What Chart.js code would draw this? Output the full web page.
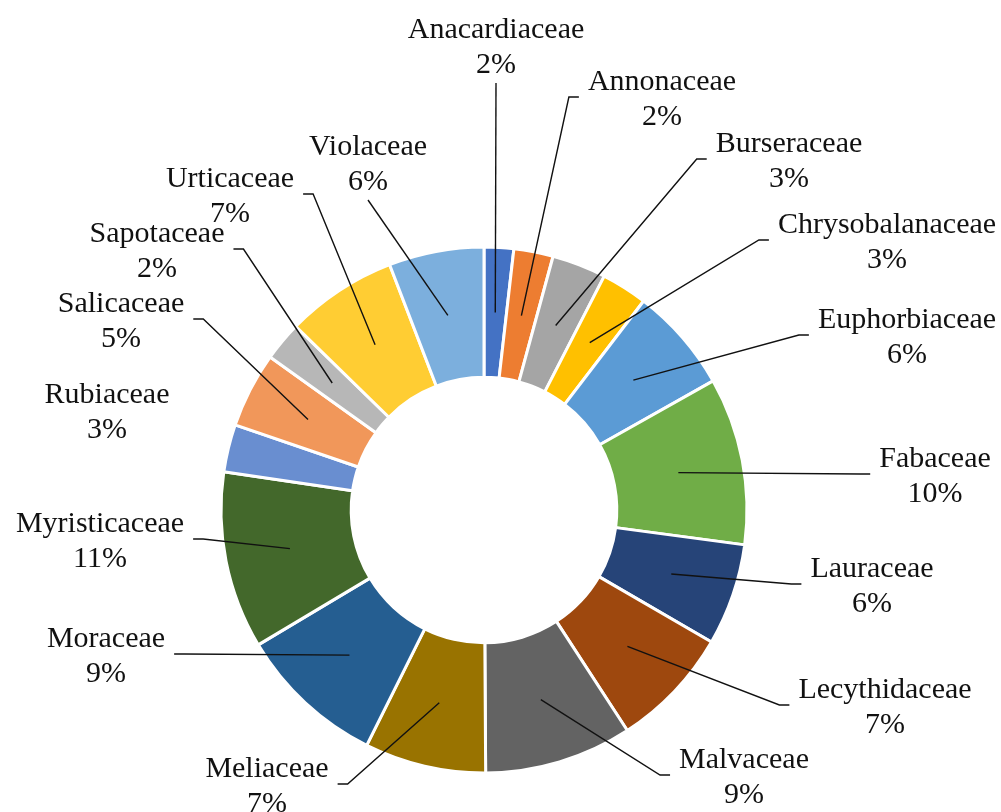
<!DOCTYPE html>
<html lang="en">
<head>
  <meta charset="UTF-8">
  <title>Tree families doughnut</title>
  <script src="https://cdn.jsdelivr.net/npm/chart.js"></script>
  <style>
    body { margin: 0; background: #fff; }
    canvas { display: block; }
  </style>
</head>
<body>
  <canvas id="donut" width="1001" height="812"></canvas>

  <script>
    // families, clockwise from 12 o'clock
    var families = ['Anacardiaceae', 'Annonaceae', 'Burseraceae', 'Chrysobalanaceae', 'Euphorbiaceae',
      'Fabaceae', 'Lauraceae', 'Lecythidaceae', 'Malvaceae', 'Meliaceae', 'Moraceae',
      'Myristicaceae', 'Rubiaceae', 'Salicaceae', 'Sapotaceae', 'Urticaceae', 'Violaceae'];

    // share of each family (%)
    var shares = [1.8, 2.4, 3.3, 2.8, 6.4, 10.2, 6.2, 7.4, 9.0, 7.4, 9.0, 10.8, 2.9, 4.6, 2.4, 6.8, 5.8];

    var sliceColors = ['#4472C4', '#ED7D31', '#A5A5A5', '#FFC000', '#5B9BD5', '#70AD47', '#264478',
      '#9E480E', '#636363', '#997300', '#255E91', '#43682B', '#698ED0', '#F1975A', '#B7B7B7',
      '#FFCD33', '#7CAFDD'];

    // where each label sits: text centre / first baseline, relative to the chart centre
    var labelOffsets = [[12, -472], [178, -420], [305, -358], [403, -277], [423, -182], [451, -43],
      [388, 67], [401, 188], [260, 258], [-217, 267], [-378, 137], [-384, 22], [-377, -107],
      [-363, -198], [-327, -268], [-254, -323], [-116, -355]];
    // which side of the label the leader line leaves from
    var leaderSide = ['bottom', 'left', 'left', 'left', 'left', 'left', 'left', 'left', 'left',
      'right', 'right', 'right', 'none', 'right', 'right', 'right', 'bottom'];

    // draws the two-line labels and leader lines
    var calloutPlugin = {
      id: 'callouts',
      afterDatasetsDraw: function (chart) {
        var ctx = chart.ctx;
        var meta = chart.getDatasetMeta(0);
        var total = shares.reduce(function (a, b) { return a + b; }, 0);
        ctx.save();
        ctx.font = '30px "Liberation Serif", "Times New Roman", serif';
        ctx.textAlign = 'center';
        ctx.textBaseline = 'alphabetic';
        meta.data.forEach(function (arc, i) {
          var p = arc.getProps(['x', 'y', 'startAngle', 'endAngle', 'innerRadius', 'outerRadius'], true);
          var mid = (p.startAngle + p.endAngle) / 2;
          var r = (p.innerRadius + p.outerRadius) / 2;
          var ax = p.x + Math.cos(mid) * r;
          var ay = p.y + Math.sin(mid) * r;
          var tx = p.x + labelOffsets[i][0];
          var ty = p.y + labelOffsets[i][1];
          var name = families[i];
          var pct = Math.round(shares[i] / total * 100) + '%';
          var w = ctx.measureText(name).width;
          var side = leaderSide[i];

          if (side !== 'none') {
            ctx.beginPath();
            ctx.strokeStyle = '#111';
            ctx.lineWidth = 1.4;
            if (side === 'bottom') {
              ctx.moveTo(tx, ty + 45);
            } else {
              var dir = side === 'left' ? -1 : 1;
              var ex = tx + dir * (w / 2 + 9);
              var ey = ty + 7;
              ctx.moveTo(ex, ey);
              ctx.lineTo(ex + dir * 10, ey);
            }
            ctx.lineTo(ax, ay);
            ctx.stroke();
          }

          ctx.fillStyle = '#111';
          ctx.fillText(name, tx, ty);
          ctx.fillText(pct, tx, ty + 35);
        });
        ctx.restore();
      }
    };

    var ctx = document.getElementById('donut').getContext('2d');
    var donut = new Chart(ctx, {
      type: 'doughnut',
      data: {
        labels: families,
        datasets: [{
          data: shares,
          backgroundColor: sliceColors,
          borderColor: '#ffffff',
          borderWidth: 3
        }]
      },
      options: {
        responsive: false,
        animation: false,
        radius: 263,
        cutout: '50.5%',
        layout: {
          padding: { left: 0, right: 33, top: 208, bottom: 0 }
        },
        plugins: {
          legend: { display: false },
          tooltip: { enabled: false }
        }
      },
      plugins: [calloutPlugin]
    });
  </script>
</body>
</html>
